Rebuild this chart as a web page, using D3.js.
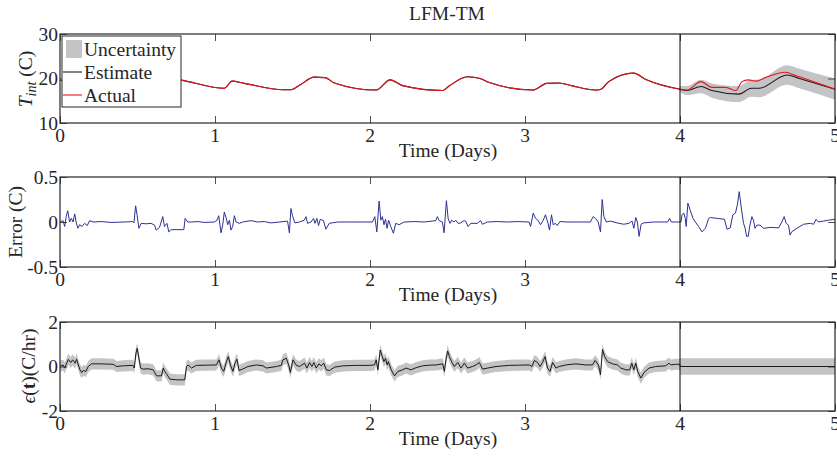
<!DOCTYPE html>
<html>
<head>
<meta charset="utf-8">
<script src="https://cdn.jsdelivr.net/npm/d3@7"></script>
<style>
  html, body { margin: 0; padding: 0; background: #fff; }
  svg text { font-family: "Liberation Serif", "Times New Roman", serif; fill: #262626; }
</style>
</head>
<body>
<svg id="chart" width="837" height="456"></svg>
<script>
// ---------------- DATA ----------------
const title = "LFM-TM";
const xTicks = [0, 1, 2, 3, 4, 5];
const tempTicks = [10, 20, 30];
const errTicks = [-0.5, 0, 0.5];
const epsTicks = [-2, 0, 2];
const forecastStart = 4;

// Interior temperature, days 0-4 (estimate == actual)
const tempHistDays = [0, 0.3, 0.6, 0.77, 1.06, 1.11, 1.19, 1.44, 1.49, 1.55, 1.64, 1.71, 1.77, 2.04, 2.13, 2.21, 2.47, 2.51, 2.63, 2.71, 2.77, 3.05, 3.14, 3.22, 3.30, 3.45, 3.49, 3.54, 3.70, 3.78, 4.0];
const tempHistVals = [19.6, 18.6, 20.3, 19.7, 17.8, 19.4, 18.9, 17.5, 17.5, 18.6, 20.3, 20.2, 19.0, 17.4, 19.7, 18.4, 17.3, 18.3, 20.4, 20.0, 19.1, 17.4, 18.9, 19.0, 18.4, 17.4, 17.6, 19.3, 21.2, 19.8, 17.6];

// Forecast window, days 4-5
const actualFcDays = [4.0, 4.045, 4.135, 4.206, 4.296, 4.36, 4.40, 4.44, 4.49, 4.55, 4.68, 4.75, 5.0];
const actualFcVals = [17.6, 17.4, 19.3, 18.0, 18.0, 17.3, 19.3, 19.7, 19.4, 20.2, 21.4, 20.6, 17.6];
const estFcDays = [4.0, 4.045, 4.135, 4.206, 4.38, 4.46, 4.51, 4.69, 4.77, 5.0];
const estFcVals = [17.6, 17.3, 18.2, 17.3, 16.5, 17.8, 17.8, 20.8, 20.0, 17.6];
const estFcUnc = [0.7, 1.0, 1.5, 1.6, 1.8, 1.9, 2.0, 2.2, 2.2, 2.4];

// Error (C)
const errDays = [0, 0.02, 0.03, 0.04, 0.05, 0.062, 0.073, 0.084, 0.095, 0.105, 0.116, 0.127, 0.142, 0.159, 0.176, 0.191, 0.213, 0.266, 0.33, 0.417, 0.47, 0.477, 0.488, 0.498, 0.509, 0.524, 0.556, 0.588, 0.61, 0.62, 0.642, 0.663, 0.674, 0.69, 0.702, 0.717, 0.799, 0.807, 0.824, 0.846, 0.889, 0.932, 0.996, 1.013, 1.024, 1.039, 1.05, 1.06, 1.071, 1.082, 1.093, 1.103, 1.114, 1.125, 1.136, 1.157, 1.179, 1.232, 1.275, 1.318, 1.361, 1.415, 1.468, 1.48, 1.49, 1.50, 1.515, 1.544, 1.576, 1.587, 1.597, 1.619, 1.636, 1.645, 1.657, 1.668, 1.679, 1.70, 1.715, 1.737, 1.79, 1.876, 1.963, 2.016, 2.031, 2.044, 2.059, 2.07, 2.08, 2.09, 2.10, 2.11, 2.12, 2.134, 2.151, 2.166, 2.188, 2.22, 2.285, 2.349, 2.424, 2.435, 2.446, 2.467, 2.478, 2.493, 2.504, 2.516, 2.527, 2.542, 2.553, 2.568, 2.585, 2.607, 2.617, 2.633, 2.65, 2.692, 2.714, 2.725, 2.757, 2.821, 2.886, 2.95, 3.026, 3.036, 3.053, 3.068, 3.083, 3.10, 3.118, 3.132, 3.148, 3.158, 3.171, 3.182, 3.197, 3.208, 3.225, 3.272, 3.347, 3.422, 3.44, 3.455, 3.472, 3.487, 3.498, 3.509, 3.525, 3.551, 3.594, 3.637, 3.67, 3.691, 3.702, 3.715, 3.725, 3.736, 3.749, 3.766, 3.83, 3.895, 3.92, 3.933, 3.944, 3.98, 4.006, 4.013, 4.024, 4.034, 4.04, 4.051, 4.066, 4.084, 4.099, 4.12, 4.142, 4.164, 4.185, 4.196, 4.24, 4.287, 4.303, 4.324, 4.341, 4.358, 4.37, 4.382, 4.393, 4.40, 4.41, 4.42, 4.43, 4.44, 4.451, 4.464, 4.474, 4.484, 4.496, 4.517, 4.539, 4.582, 4.636, 4.657, 4.672, 4.685, 4.70, 4.71, 4.72, 4.754, 4.797, 4.84, 4.862, 4.878, 4.893, 4.925, 4.957, 5.0];
const errVals = [0, 0.015, -0.05, 0.06, 0.125, 0.0, 0.04, 0, 0.09, -0.01, -0.07, -0.03, -0.05, -0.015, -0.04, 0.015, 0, 0.005, -0.005, 0, 0.005, -0.01, 0.18, 0.07, -0.07, -0.015, -0.02, -0.015, -0.035, -0.09, -0.06, 0.06, -0.05, -0.015, -0.11, -0.085, -0.085, 0.04, 0.0, 0, 0.005, -0.005, 0, 0.02, 0.07, -0.12, -0.03, 0.11, 0.05, -0.03, 0.02, -0.09, -0.05, 0.07, 0.0, -0.015, 0, 0.015, 0, 0.005, -0.01, 0, 0.01, -0.12, 0.15, 0.07, -0.01, 0, 0.02, 0.06, -0.015, 0, 0.04, -0.015, 0.04, -0.04, 0.03, 0.015, -0.08, -0.015, 0, 0, 0, 0, 0.06, -0.11, 0.233, 0.02, 0.06, -0.03, 0.03, -0.07, 0.02, -0.05, -0.125, -0.015, -0.03, 0, 0.005, 0, 0.015, 0.06, 0.015, 0, -0.12, 0.237, 0.04, -0.015, 0.02, 0, 0.02, -0.015, -0.01, 0.015, 0.01, -0.05, -0.015, -0.015, 0.015, -0.025, 0, 0.005, 0, 0.005, 0, -0.05, 0.1, 0.04, 0.02, -0.03, 0.02, 0.08, -0.01, -0.09, 0.08, -0.03, -0.015, -0.04, 0.005, 0, 0, 0, 0.06, 0.04, 0, -0.11, 0.25, 0.06, 0, 0.01, -0.01, -0.025, -0.015, 0.01, -0.07, 0.05, 0, -0.16, -0.025, -0.01, 0, 0, 0, 0.04, 0, 0, 0, 0.08, 0.1, 0.04, -0.05, 0.21, 0.13, 0.04, 0, -0.05, -0.11, -0.07, 0.04, 0.05, 0.04, 0.03, -0.08, -0.065, 0.08, 0.1, 0.19, 0.337, 0.19, 0.1, -0.015, -0.07, -0.16, -0.16, -0.035, 0.06, 0.02, -0.07, -0.035, -0.035, -0.07, -0.06, -0.065, 0, 0.06, -0.015, -0.035, -0.145, -0.11, -0.07, -0.025, -0.015, -0.025, 0.03, 0, 0.01, 0.02, 0.03];

// epsilon(t) (C/hr) with uncertainty
const epsDays = [0, 0.02, 0.03, 0.043, 0.054, 0.069, 0.082, 0.097, 0.107, 0.118, 0.129, 0.14, 0.15, 0.167, 0.182, 0.204, 0.258, 0.343, 0.365, 0.408, 0.472, 0.479, 0.49, 0.498, 0.509, 0.52, 0.537, 0.569, 0.601, 0.623, 0.655, 0.666, 0.676, 0.691, 0.709, 0.752, 0.805, 0.816, 0.826, 0.848, 0.88, 0.945, 1.009, 1.026, 1.041, 1.056, 1.074, 1.086, 1.099, 1.116, 1.129, 1.142, 1.155, 1.177, 1.213, 1.267, 1.31, 1.331, 1.396, 1.428, 1.438, 1.46, 1.477, 1.486, 1.503, 1.525, 1.546, 1.578, 1.593, 1.61, 1.625, 1.638, 1.653, 1.67, 1.685, 1.702, 1.718, 1.739, 1.771, 1.825, 1.911, 1.997, 2.029, 2.04, 2.051, 2.066, 2.079, 2.09, 2.1, 2.111, 2.118, 2.137, 2.158, 2.18, 2.201, 2.233, 2.265, 2.298, 2.34, 2.383, 2.426, 2.469, 2.48, 2.49, 2.501, 2.512, 2.529, 2.544, 2.566, 2.587, 2.609, 2.63, 2.662, 2.684, 2.705, 2.727, 2.759, 2.813, 2.899, 2.963, 3.027, 3.045, 3.06, 3.081, 3.097, 3.113, 3.13, 3.145, 3.161, 3.178, 3.2, 3.22, 3.264, 3.328, 3.392, 3.435, 3.452, 3.474, 3.487, 3.5, 3.513, 3.532, 3.564, 3.597, 3.618, 3.65, 3.676, 3.689, 3.702, 3.715, 3.727, 3.747, 3.768, 3.8, 3.843, 3.908, 3.929, 3.94, 3.972, 3.998, 4.002, 5.0];
const epsVals = [0, 0.07, -0.07, 0.15, 0.32, 0.18, 0.3, 0.15, 0.33, 0.07, -0.15, -0.27, -0.18, -0.22, 0, 0.12, 0.12, 0.1, 0, 0.03, 0.05, -0.07, 0.6, 0.82, 0.37, -0.07, -0.12, -0.1, -0.15, -0.42, -0.42, -0.07, -0.22, -0.37, -0.57, -0.6, -0.6, 0, 0.07, -0.07, 0.05, 0.06, 0.07, 0.3, -0.07, -0.22, 0.22, 0.45, 0.07, -0.22, 0.15, 0.33, -0.18, -0.12, 0, 0.07, 0.03, -0.07, 0, 0.05, 0.3, 0.37, 0.03, -0.27, 0.3, 0.05, 0, 0.15, -0.07, 0.18, 0, 0.18, -0.07, 0.12, 0.03, 0.15, -0.15, -0.18, -0.03, 0.03, 0.05, 0.05, 0.07, 0.3, -0.15, 0.74, 0.45, 0.22, 0.37, 0.07, 0.22, -0.15, -0.42, -0.22, -0.18, -0.07, -0.15, -0.05, 0.03, 0.06, 0.07, 0.12, -0.22, 0.3, 0.7, 0.45, 0.18, 0, 0.18, -0.07, 0.15, -0.07, 0, 0.07, 0.18, -0.12, -0.07, 0, 0.05, 0.06, 0.07, 0, 0.27, 0.18, 0, 0.18, 0.45, -0.07, -0.22, 0.18, -0.07, 0, 0.07, 0.12, 0.07, 0.07, 0.27, 0.07, -0.37, 0.77, 0.45, 0.22, 0.12, 0.07, -0.07, -0.15, -0.15, 0.15, -0.15, 0.15, -0.22, -0.52, -0.27, -0.07, 0, 0.03, 0.15, 0.07, 0.1, 0.1, 0, 0];
const epsUnc = epsDays.map(d => d < 4 ? 0.25 : 0.37);

// ---------------- DRAW ----------------
const svg = d3.select("#chart");
const X0 = 60, X1 = 835;
const x = d3.scaleLinear().domain([0, 5]).range([X0, X1]);
const axisColor = "#262626";
const fontSize = 19.5;
const tickLen = 7;

function panel(top, bottom, yDomain, yTicks, yFmt) {
  const y = d3.scaleLinear().domain(yDomain).range([bottom, top]);
  const g = svg.append("g");
  const clipId = "clip" + top;
  svg.append("clipPath").attr("id", clipId).append("rect")
    .attr("x", X0).attr("y", top).attr("width", X1 - X0).attr("height", bottom - top);
  const plot = g.append("g").attr("clip-path", `url(#${clipId})`);
  return { y, g, plot, top, bottom, yTicks, yFmt };
}

function frame(p) {
  const { g, y, top, bottom } = p;
  g.append("g").attr("transform", `translate(0,${bottom})`)
    .call(d3.axisBottom(x).tickValues(xTicks).tickSize(-tickLen).tickFormat(""))
    .call(a => a.select(".domain").remove());
  g.append("g").attr("transform", `translate(0,${top})`)
    .call(d3.axisTop(x).tickValues(xTicks).tickSize(-tickLen).tickFormat(""))
    .call(a => a.select(".domain").remove());
  g.append("g").attr("transform", `translate(${X0},0)`)
    .call(d3.axisLeft(y).tickValues(p.yTicks).tickSize(-tickLen).tickFormat(""))
    .call(a => a.select(".domain").remove());
  g.append("g").attr("transform", `translate(${X1},0)`)
    .call(d3.axisRight(y).tickValues(p.yTicks).tickSize(-tickLen).tickFormat(""))
    .call(a => a.select(".domain").remove());
  g.selectAll(".tick line").attr("stroke", axisColor).attr("stroke-width", 0.8);
  g.append("rect").attr("x", X0).attr("y", top).attr("width", X1 - X0).attr("height", bottom - top)
    .attr("fill", "none").attr("stroke", axisColor).attr("stroke-width", 1.2);
  g.append("line").attr("x1", x(forecastStart)).attr("x2", x(forecastStart))
    .attr("y1", top).attr("y2", bottom).attr("stroke", "#000").attr("stroke-width", 1);
  g.selectAll(".xl").data(xTicks).enter().append("text")
    .attr("x", d => x(d)).attr("y", bottom + 19).attr("text-anchor", "middle")
    .attr("font-size", fontSize).text(d => d);
  g.selectAll(".yl").data(p.yTicks).enter().append("text")
    .attr("x", X0 - 2).attr("y", d => y(d)).attr("dy", "0.35em").attr("text-anchor", "end")
    .attr("font-size", fontSize).text(p.yFmt);
  g.append("text").attr("x", 448).attr("y", bottom + 34).attr("text-anchor", "middle")
    .attr("font-size", fontSize).text("Time (Days)");
}

// ---- Panel 1: temperature ----
const p1 = panel(34, 123, [10, 30], tempTicks, d => d);
const histPts = tempHistDays.map((d, i) => [d, tempHistVals[i]]);
const actualPts = histPts.concat(actualFcDays.slice(1).map((d, i) => [d, actualFcVals[i + 1]]));
const estPts = histPts.concat(estFcDays.slice(1).map((d, i) => [d, estFcVals[i + 1]]));
const bandPts = estFcDays.map((d, i) => ({ d, lo: estFcVals[i] - estFcUnc[i], hi: estFcVals[i] + estFcUnc[i] }));
p1.plot.append("path").datum(bandPts)
  .attr("d", d3.area().x(b => x(b.d)).y0(b => p1.y(b.lo)).y1(b => p1.y(b.hi)).curve(d3.curveMonotoneX))
  .attr("fill", "#c4c4c6");
const line1 = d3.line().x(d => x(d[0])).y(d => p1.y(d[1])).curve(d3.curveMonotoneX);
p1.plot.append("path").datum(estPts).attr("d", line1).attr("fill", "none").attr("stroke", "#1a1a1a").attr("stroke-width", 1.1);
p1.plot.append("path").datum(actualPts).attr("d", line1).attr("fill", "none").attr("stroke", "#e8141c").attr("stroke-width", 1.1);
frame(p1);

// legend
const lg = p1.g.append("g");
lg.append("rect").attr("x", 62).attr("y", 36).attr("width", 119).attr("height", 71)
  .attr("fill", "#fff").attr("stroke", axisColor).attr("stroke-width", 1);
lg.append("rect").attr("x", 66).attr("y", 40).attr("width", 16).attr("height", 18).attr("fill", "#c4c4c6");
lg.append("text").attr("x", 84).attr("y", 56).attr("font-size", fontSize).text("Uncertainty");
lg.append("line").attr("x1", 63).attr("x2", 82).attr("y1", 72).attr("y2", 72).attr("stroke", "#1a1a1a").attr("stroke-width", 1.1);
lg.append("text").attr("x", 84).attr("y", 79).attr("font-size", fontSize).text("Estimate");
lg.append("line").attr("x1", 63).attr("x2", 82).attr("y1", 95).attr("y2", 95).attr("stroke", "#e8141c").attr("stroke-width", 1.1);
lg.append("text").attr("x", 84).attr("y", 102).attr("font-size", fontSize).text("Actual");

const yl1 = svg.append("text").attr("transform", "translate(32,79) rotate(-90)")
  .attr("text-anchor", "middle").attr("font-size", fontSize);
yl1.append("tspan").attr("font-style", "italic").text("T");
yl1.append("tspan").attr("font-style", "italic").attr("font-size", 14).attr("dy", 4).text("int");
yl1.append("tspan").attr("dy", -4).text(" (C)");

// ---- Panel 2: error ----
const p2 = panel(177, 267, [-0.5, 0.5], errTicks, d => d === 0 ? "0" : (d < 0 ? "-0.5" : "0.5"));
const errPts = errDays.map((d, i) => [d, errVals[i]]);
p2.plot.append("path").datum(errPts)
  .attr("d", d3.line().x(d => x(d[0])).y(d => p2.y(d[1])))
  .attr("fill", "none").attr("stroke", "#2e3192").attr("stroke-width", 1);
frame(p2);
svg.append("text").attr("transform", "translate(22,222) rotate(-90)")
  .attr("text-anchor", "middle").attr("font-size", fontSize).text("Error (C)");

// ---- Panel 3: epsilon ----
const p3 = panel(322, 411, [-2, 2], epsTicks, d => d);
const epsPts = epsDays.map((d, i) => ({ d, v: epsVals[i], u: epsUnc[i] }));
p3.plot.append("path").datum(epsPts)
  .attr("d", d3.area().x(e => x(e.d)).y0(e => p3.y(e.v - e.u)).y1(e => p3.y(e.v + e.u)))
  .attr("fill", "#c4c4c6");
p3.plot.append("path").datum(epsPts)
  .attr("d", d3.line().x(e => x(e.d)).y(e => p3.y(e.v)))
  .attr("fill", "none").attr("stroke", "#1a1a1a").attr("stroke-width", 1);
frame(p3);
const yl3 = svg.append("text").attr("transform", "translate(35,366) rotate(-90)")
  .attr("text-anchor", "middle").attr("font-size", fontSize);
yl3.append("tspan").attr("font-style", "italic").text("ϵ");
yl3.append("tspan").text("(");
yl3.append("tspan").attr("font-weight", "bold").text("t");
yl3.append("tspan").text(")(C/hr)");

svg.append("text").attr("x", 447).attr("y", 20).attr("text-anchor", "middle")
  .attr("font-size", fontSize).text(title);
</script>
</body>
</html>
